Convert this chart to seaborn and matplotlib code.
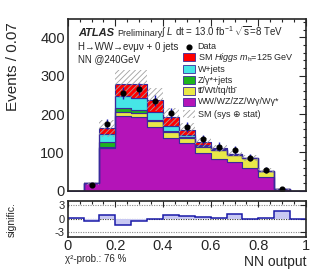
import matplotlib

matplotlib.use("Agg")
import matplotlib.pyplot as plt
import matplotlib.patches as mpatches
import numpy as np
import pandas as pd
import seaborn as sns

# NN output binning (15 bins of 1/15)
bin_edges = np.linspace(0.0, 1.0, 16)
bin_centers = 0.5 * (bin_edges[:-1] + bin_edges[1:])

# stacked background / signal yields per bin
higgs = [0, 0, 15, 30, 35, 31, 22, 13, 6, 3, 2, 1, 0.5, 0, 0]
wjets = [0, 0, 22, 33, 32, 21, 14, 6, 4, 2, 2, 0, 0, 0, 0]
zjets = [0, 0, 12, 10, 9, 2, 2, 1, 1, 0, 0, 0, 0, 0, 0]
top = [0, 0, 3, 10, 9, 16, 17, 14, 17, 23, 19, 27, 17, 0, 0]
diboson = [0, 19, 111, 195, 193, 167, 137, 124, 98, 83, 74, 58, 35, 4, 0]
sm_unc = [0, 3, 22, 37, 37, 30, 23, 18, 11, 8, 6, 8, 6, 2, 0]

data_vals = [0, 16, 174, 254, 265, 235, 202, 165, 134, 115, 106, 86, 54, 4, 0]
data_err = [0, 4, 13, 16, 16, 15, 14, 13, 12, 11, 10, 9, 7, 2, 0]

signif = [0.1, -0.45, 0.9, -1.3, -0.6, -0.1, 0.8, 0.6, 0.4, 0.15, 1.0, 0.0, 0.2, 1.7, 0.0]

process_names = ["higgs", "wjets", "zjets", "top", "diboson"]
process_colors = {
    "higgs": "#ff0000",
    "wjets": "#46e6e6",
    "zjets": "#1eb41e",
    "top": "#e8e848",
    "diboson": "#b414b8",
}
legend_labels = [
    ("higgs", r"SM $\it{Higgs}$ $m_{\rm h}$=125 GeV"),
    ("wjets", "W+jets"),
    ("zjets", "Z/\u03b3*+jets"),
    ("top", "tt\u0304/Wt/tq/tb\u0304"),
    ("diboson", "WW/WZ/ZZ/W\u03b3/W\u03b3*"),
]

W, H = 323, 273
edge_col = "#3a2a9c"

sns.set_style("white")
plt.rcParams["font.family"] = ["Liberation Sans", "DejaVu Sans"]
plt.rcParams["mathtext.fontset"] = "custom"
plt.rcParams["mathtext.rm"] = "Liberation Sans"
plt.rcParams["mathtext.it"] = "Liberation Sans:italic"
plt.rcParams["mathtext.bf"] = "Liberation Sans:bold"
plt.rcParams["hatch.color"] = "#a0a0a0"
plt.rcParams["hatch.linewidth"] = 0.6


def fx(px):
    return px / W


def fy(py):
    return 1 - py / H


fig = plt.figure(figsize=(W / 100, H / 100), dpi=100)
ax = fig.add_axes([fx(67.7), fy(190.7), fx(306) - fx(67.7), fy(19) - fy(190.7)])
ax2 = fig.add_axes([fx(67.7), fy(236.7), fx(306) - fx(67.7), fy(200.7) - fy(236.7)])

# long table for the stacked histogram
series = {"higgs": higgs, "wjets": wjets, "zjets": zjets, "top": top, "diboson": diboson}
rows = []
for name in process_names:
    for c, v in zip(bin_centers, series[name]):
        rows.append({"nn": c, "events": v, "process": name})
df = pd.DataFrame(rows)

sns.histplot(
    data=df,
    x="nn",
    weights="events",
    hue="process",
    hue_order=process_names,
    multiple="stack",
    bins=list(bin_edges),
    element="step",
    palette=process_colors,
    edgecolor=edge_col,
    linewidth=0.8,
    alpha=1,
    legend=False,
    ax=ax,
)

total = np.sum([higgs, wjets, zjets, top, diboson], axis=0)
unc = np.array(sm_unc)
ax.bar(
    bin_centers,
    2 * unc,
    bottom=total - unc,
    width=bin_edges[1] - bin_edges[0],
    fill=False,
    hatch="//////",
    edgecolor="#a0a0a0",
    linewidth=0,
)

dv = np.array(data_vals, dtype=float)
mask = dv > 0
ax.errorbar(
    bin_centers[mask],
    dv[mask],
    yerr=np.array(data_err)[mask],
    fmt="o",
    color="black",
    ecolor="#1a1ab4",
    elinewidth=1.0,
    markersize=3.4,
    capsize=0,
)

ax.set_xlim(0, 1)
ax.set_ylim(0, 448)
ax.set_xlabel("")
ax.set_ylabel("")
ax.set_xticks(np.arange(0, 1.01, 0.2))
ax.set_xticks(np.arange(0, 1.001, 0.05), minor=True)
ax.set_yticks([0, 100, 200, 300, 400])
ax.set_yticks(np.arange(0, 448, 20), minor=True)
ax.tick_params(which="both", direction="in", top=True, right=True, labelbottom=False,
               labelsize=10.5, pad=2)
ax.tick_params(which="major", length=5, width=0.8)
ax.tick_params(which="minor", length=2.5, width=0.8)
for s in ax.spines.values():
    s.set_linewidth(1.2)

# significance panel
ax2.stairs(signif, bin_edges, baseline=0, fill=True, color="#c8c8f2")
ax2.stairs(signif, bin_edges, baseline=None, color="#1a1aa8", linewidth=1.1)
for yl, c in [(3, "#888888"), (0, "#333333"), (-3, "#888888")]:
    ax2.axhline(yl, color=c, linestyle=(0, (1, 1.2)), linewidth=0.8, zorder=0)
ax2.set_xlim(0, 1)
ax2.set_ylim(-4, 4)
ax2.set_yticks([-3, 0, 3])
ax2.set_yticklabels(["-3", "0", "3"])
ax2.set_xticks(np.arange(0, 1.01, 0.2))
ax2.set_xticks(np.arange(0, 1.001, 0.05), minor=True)
ax2.set_xticklabels(["0", "0.2", "0.4", "0.6", "0.8", "1"])
ax2.tick_params(which="both", direction="in", top=True, right=True, pad=2)
ax2.tick_params(axis="x", labelsize=10.5)
ax2.tick_params(axis="y", labelsize=8)
ax2.tick_params(which="major", length=4, width=0.8)
ax2.tick_params(which="minor", length=2, width=0.8)
for s in ax2.spines.values():
    s.set_linewidth(1.2)

# labels
fig.text(fx(13), fy(22), "Events / 0.07", rotation=90, ha="center", va="top", fontsize=11)
fig.text(fx(12), fy(220), "signific.", rotation=90, ha="center", va="center", fontsize=7.5)
fig.text(fx(306), fy(262), "NN output", ha="right", va="center", fontsize=10)
fig.text(fx(65), fy(259.5), "\u03c7\u00b2-prob.: 76 %", ha="left", va="center", fontsize=7)

fig.text(fx(78), fy(33), "ATLAS", ha="left", va="center", fontsize=8,
         fontweight="bold", fontstyle="italic")
fig.text(fx(117), fy(33.5), "Preliminary", ha="left", va="center", fontsize=6.5)
fig.text(fx(161), fy(32.5), r"$\int$ $L$ dt = 13.0 fb$^{-1}$ $\sqrt{\rm s}$=8 TeV",
         ha="left", va="center", fontsize=7)
fig.text(fx(78), fy(47), "H\u2192WW\u2192e\u03bd\u03bc\u03bd + 0 jets",
         ha="left", va="center", fontsize=7)
fig.text(fx(78), fy(59), "NN @240GeV", ha="left", va="center", fontsize=7)

# legend
leg_y = [46.7, 57.3, 69, 80.3, 91, 101.7, 114.3]
fig.add_artist(plt.Line2D([fx(189)], [fy(leg_y[0])], marker="o", color="black",
                          markersize=3.4, transform=fig.transFigure))
fig.text(fx(197.7), fy(leg_y[0]), "Data", ha="left", va="center", fontsize=6.5)
for (key, lab), yy in zip(legend_labels, leg_y[1:6]):
    fig.add_artist(mpatches.Rectangle((fx(183), fy(yy + 4)), fx(12), fy(yy - 4) - fy(yy + 4),
                                      facecolor=process_colors[key], edgecolor=edge_col,
                                      linewidth=0.6, transform=fig.transFigure))
    fig.text(fx(197.7), fy(yy), lab, ha="left", va="center", fontsize=6.5)
fig.add_artist(mpatches.Rectangle((fx(183), fy(leg_y[6] + 4)), fx(12),
                                  fy(leg_y[6] - 4) - fy(leg_y[6] + 4), fill=False,
                                  hatch="//////", edgecolor="#a0a0a0", linewidth=0,
                                  transform=fig.transFigure))
fig.text(fx(197.7), fy(leg_y[6]), "SM (sys \u2295 stat)", ha="left", va="center",
         fontsize=6.5)

fig.savefig("out.png", dpi=100)
